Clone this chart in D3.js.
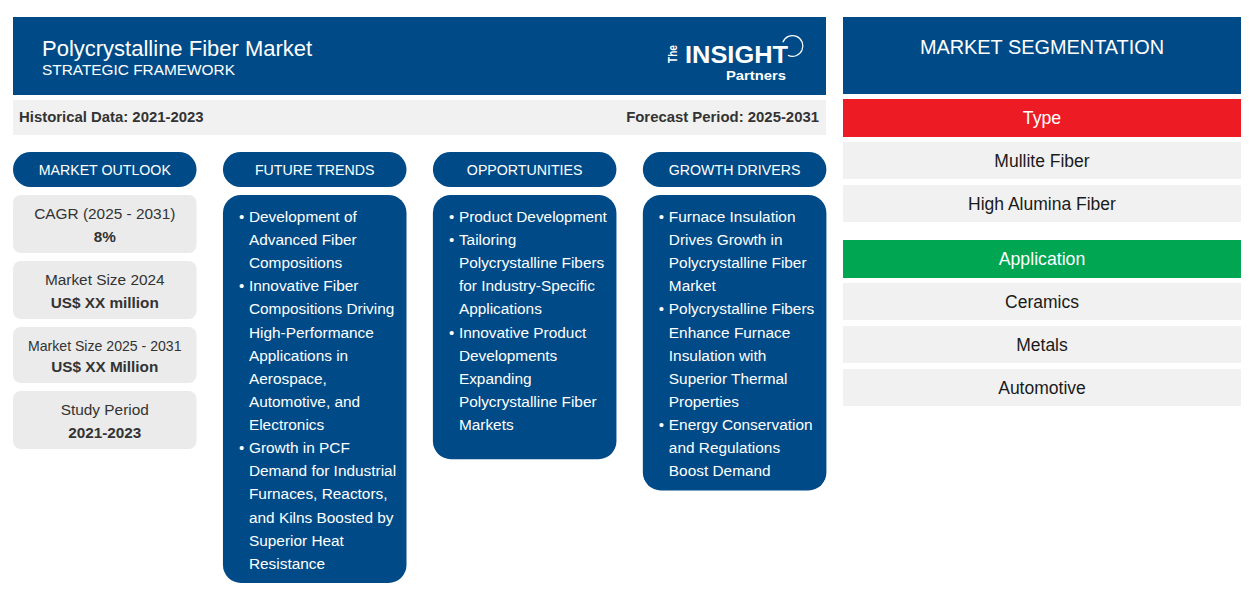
<!DOCTYPE html>
<html>
<head>
<meta charset="utf-8">
<script src="https://cdn.jsdelivr.net/npm/d3@7"></script>
<style>
  html, body { margin: 0; padding: 0; background: #fff; }
  text { font-family: "Liberation Sans", Arial, sans-serif; }
</style>
</head>
<body>
<svg id="chart" width="1254" height="600"></svg>
<script>
const titleText = 'Polycrystalline Fiber Market'
const subtitleText = 'STRATEGIC FRAMEWORK'
const historicalText = 'Historical Data: 2021-2023'
const forecastText = 'Forecast Period: 2025-2031'
const segmentationText = 'MARKET SEGMENTATION'

const columnTitles = ['MARKET OUTLOOK', 'FUTURE TRENDS', 'OPPORTUNITIES', 'GROWTH DRIVERS']

const outlookLabels = ['CAGR (2025 - 2031)', 'Market Size 2024', 'Market Size 2025 - 2031', 'Study Period']
const outlookValues = ['8%', 'US$ XX million', 'US$ XX Million', '2021-2023']

// wrapped the same way as the picture, one array per bullet
const futureTrends = [
  ['Development of', 'Advanced Fiber', 'Compositions'],
  ['Innovative Fiber', 'Compositions Driving', 'High-Performance', 'Applications in', 'Aerospace,', 'Automotive, and', 'Electronics'],
  ['Growth in PCF', 'Demand for Industrial', 'Furnaces, Reactors,', 'and Kilns Boosted by', 'Superior Heat', 'Resistance']
]
const opportunities = [
  ['Product Development'],
  ['Tailoring', 'Polycrystalline Fibers', 'for Industry-Specific', 'Applications'],
  ['Innovative Product', 'Developments', 'Expanding', 'Polycrystalline Fiber', 'Markets']
]
const growthDrivers = [
  ['Furnace Insulation', 'Drives Growth in', 'Polycrystalline Fiber', 'Market'],
  ['Polycrystalline Fibers', 'Enhance Furnace', 'Insulation with', 'Superior Thermal', 'Properties'],
  ['Energy Conservation', 'and Regulations', 'Boost Demand']
]

const segmentGroups = ['Type', 'Application']
const segmentColors = ['#ed1c24', '#00a651']
const typeItems = ['Mullite Fiber', 'High Alumina Fiber']
const applicationItems = ['Ceramics', 'Metals', 'Automotive']

const blue = '#004b87'
const grey = '#f1f1f1'
const cardGrey = '#ebebeb'
const darkText = '#333'

const svg = d3.select('#chart')

function box(x, y, w, h, fill, r) {
  return svg.append('rect')
    .attr('x', x).attr('y', y)
    .attr('width', w).attr('height', h)
    .attr('rx', r || 0).attr('ry', r || 0)
    .attr('fill', fill)
}

function label(x, y, str, size, fill, anchor, weight) {
  return svg.append('text')
    .attr('x', x).attr('y', y)
    .attr('font-size', size)
    .attr('fill', fill)
    .attr('text-anchor', anchor || 'start')
    .attr('font-weight', weight || 'normal')
    .text(str)
}

// header
box(13, 17, 813, 78, blue)
label(42, 56, titleText, 22, '#fff')
label(42, 75, subtitleText, 15.4, '#fff')

// logo
svg.append('text')
  .attr('transform', 'translate(677,63) rotate(-90)')
  .attr('font-size', 13).attr('font-weight', 'bold').attr('fill', '#fff')
  .attr('textLength', 18).attr('lengthAdjust', 'spacingAndGlyphs')
  .text('The')
svg.append('text')
  .attr('x', 685).attr('y', 62.5)
  .attr('font-size', 23.5).attr('font-weight', 'bold').attr('fill', '#fff')
  .attr('textLength', 103).attr('lengthAdjust', 'spacingAndGlyphs')
  .text('INSIGHT')
svg.append('text')
  .attr('x', 726).attr('y', 80)
  .attr('font-size', 13.5).attr('font-weight', 'bold').attr('fill', '#fff')
  .attr('textLength', 60).attr('lengthAdjust', 'spacingAndGlyphs')
  .text('Partners')
svg.append('path')
  .attr('d', d3.arc()({ innerRadius: 9.8, outerRadius: 11, startAngle: -1.2, endAngle: 3.6 }))
  .attr('transform', 'translate(792.5,46)')
  .attr('fill', '#fff')

// period bar
box(13, 100, 813, 35, grey)
label(19, 122, historicalText, 14.9, darkText, 'start', 'bold')
label(819, 122, forecastText, 14.9, darkText, 'end', 'bold')

// columns
const colX = d3.scaleBand()
  .domain(columnTitles)
  .range([13, 826.4])
  .paddingInner(26.4 / 210)
  .paddingOuter(0)
const colW = colX.bandwidth()

columnTitles.forEach(t => {
  box(colX(t), 152, colW, 35, blue, 17.5)
  label(colX(t) + colW / 2, 175, t, 14.2, '#fff', 'middle')
})

// outlook cards
const cardTops = [195, 261, 327, 391]
const cardHeights = [58, 58, 56, 58]
const outlookX = colX(columnTitles[0])
outlookLabels.forEach((l, i) => {
  box(outlookX, cardTops[i], colW, cardHeights[i], cardGrey, 8)
  const size = l.length > 20 ? 14.1 : 15.4
  label(outlookX + colW / 2, cardTops[i] + 24, l, size, darkText, 'middle')
  label(outlookX + colW / 2, cardTops[i] + 47 - (i === 2 ? 2 : 0), outlookValues[i], 15.3, darkText, 'middle', 'bold')
})

// bullet columns
const lineH = 23.12
function bulletColumn(title, bullets, extra) {
  const x = colX(title)
  const nLines = d3.sum(bullets, b => b.length)
  box(x, 195, colW, nLines * lineH + 18 + extra, blue, 18)
  let n = 0
  bullets.forEach(lines => {
    lines.forEach((line, i) => {
      const y = 222 + n * lineH
      if (i === 0) label(x + 16, y, '•', 15, '#fff')
      label(x + 26, y, line, 15.4, '#fff')
      n += 1
    })
  })
}
bulletColumn(columnTitles[1], futureTrends, 0)
bulletColumn(columnTitles[2], opportunities, 15)
bulletColumn(columnTitles[3], growthDrivers, 0)

// segmentation
const segX = 843
const segW = 398
const segMid = segX + segW / 2
box(segX, 17, segW, 77, blue)
label(segMid, 54, segmentationText, 19.9, '#fff', 'middle')

function segmentBlock(name, color, items, top) {
  box(segX, top, segW, 38, color)
  label(segMid, top + 25, name, 17.7, '#fff', 'middle')
  items.forEach((item, i) => {
    const y = top + 43 + i * 43
    box(segX, y, segW, 37, grey)
    label(segMid, y + 25, item, 17.5, '#1a1a1a', 'middle')
  })
}
segmentBlock(segmentGroups[0], segmentColors[0], typeItems, 99)
segmentBlock(segmentGroups[1], segmentColors[1], applicationItems, 240)
</script>
</body>
</html>
